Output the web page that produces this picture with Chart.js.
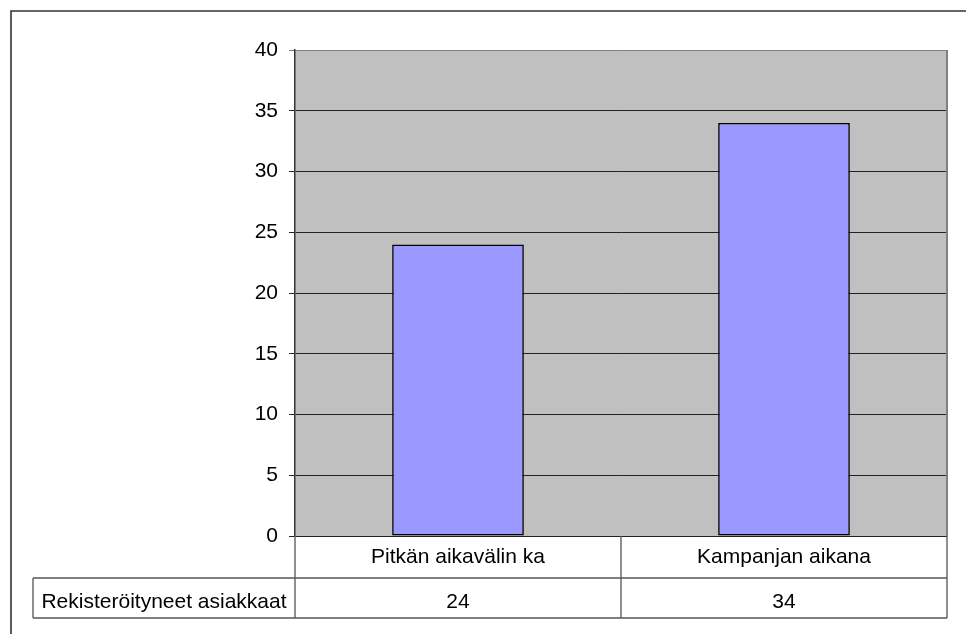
<!DOCTYPE html>
<html lang="fi">
<head>
<meta charset="utf-8">
<title>Rekisteröityneet asiakkaat</title>
<script src="https://cdn.jsdelivr.net/npm/chart.js@4/dist/chart.umd.min.js"></script>
<style>
  html, body { margin: 0; padding: 0; background: #ffffff; }
  canvas { display: block; }
</style>
</head>
<body>
<canvas id="chart" width="966" height="634"></canvas>
<script>
// Categories, series and values
const categories = ['Pitkän aikavälin ka', 'Kampanjan aikana'];
const seriesName = 'Rekisteröityneet asiakkaat';
const registeredCustomers = [24, 34];

const yMin = 0;
const yMax = 40;
const yStep = 5;

const FONT_FAMILY = '"Liberation Sans", Arial, Helvetica, sans-serif';
const FONT_SIZE = 21;

// Grey plot background
const plotBackground = {
  id: 'plotBackground',
  beforeDraw(chart) {
    const { ctx, chartArea: a } = chart;
    ctx.save();
    ctx.fillStyle = '#c0c0c0';
    ctx.fillRect(a.left, a.top, a.right - a.left, a.bottom - a.top);
    ctx.restore();
  }
};

// Data table under the plot, plot frame and outer frame
const dataTable = {
  id: 'dataTable',
  afterDraw(chart) {
    const { ctx, chartArea: a } = chart;
    const x = chart.scales.x;
    const row1Bottom = a.bottom + 42;
    const row2Bottom = row1Bottom + 40;
    const tableLeft = 33;
    const centers = categories.map((c, i) => x.getPixelForValue(i));
    const splits = [];
    for (let i = 0; i < centers.length - 1; i++) splits.push((centers[i] + centers[i + 1]) / 2);

    ctx.save();
    // right edge of plot
    ctx.strokeStyle = '#808080';
    ctx.lineWidth = 2;
    ctx.beginPath();
    ctx.moveTo(a.right, a.top);
    ctx.lineTo(a.right, a.bottom);
    ctx.stroke();

    // table grid
    ctx.strokeStyle = '#555555';
    ctx.lineWidth = 1.3;
    ctx.beginPath();
    ctx.moveTo(tableLeft, row1Bottom); ctx.lineTo(a.right, row1Bottom);
    ctx.moveTo(tableLeft, row2Bottom); ctx.lineTo(a.right, row2Bottom);
    ctx.moveTo(tableLeft, row1Bottom); ctx.lineTo(tableLeft, row2Bottom);
    ctx.moveTo(a.left, a.bottom); ctx.lineTo(a.left, row2Bottom);
    splits.forEach(s => { ctx.moveTo(s, a.bottom); ctx.lineTo(s, row2Bottom); });
    ctx.moveTo(a.right, a.bottom); ctx.lineTo(a.right, row2Bottom);
    ctx.stroke();

    // table text
    ctx.fillStyle = '#000000';
    ctx.font = FONT_SIZE + 'px ' + FONT_FAMILY;
    ctx.textAlign = 'center';
    ctx.textBaseline = 'alphabetic';
    const baseline = row1Bottom + 29.5;
    ctx.fillText(seriesName, (tableLeft + a.left) / 2, baseline);
    registeredCustomers.forEach((v, i) => {
      ctx.fillText(String(v), centers[i], baseline);
    });

    // outer frame
    ctx.strokeStyle = '#333333';
    ctx.lineWidth = 1.6;
    ctx.beginPath();
    ctx.moveTo(11, chart.height);
    ctx.lineTo(11, 11);
    ctx.lineTo(chart.width, 11);
    ctx.stroke();
    ctx.restore();
  }
};

new Chart(document.getElementById('chart'), {
  type: 'bar',
  data: {
    labels: categories,
    datasets: [{
      label: seriesName,
      data: registeredCustomers,
      backgroundColor: '#9999ff',
      borderColor: '#000000',
      borderWidth: 1.6,
      borderSkipped: false,
      categoryPercentage: 1,
      barPercentage: 0.404
    }]
  },
  options: {
    responsive: false,
    animation: false,
    devicePixelRatio: 1,
    layout: { padding: { left: 0, top: 50, right: 19, bottom: 56 } },
    plugins: {
      legend: { display: false },
      tooltip: { enabled: false },
      title: { display: false }
    },
    scales: {
      x: {
        grid: { display: false, drawTicks: false },
        border: { display: false },
        ticks: {
          color: '#000000',
          font: { family: FONT_FAMILY, size: FONT_SIZE },
          padding: 9,
          maxRotation: 0,
          autoSkip: false
        },
        afterFit(scale) { scale.height = 42; }
      },
      y: {
        min: yMin,
        max: yMax,
        grid: {
          color: ctx => (ctx.tick && ctx.tick.value === yMax ? '#808080' : '#222222'),
          lineWidth: 1,
          tickLength: 6,
          drawTicks: true
        },
        border: { display: true, color: '#333333', width: 1.5 },
        ticks: {
          stepSize: yStep,
          color: '#000000',
          font: { family: FONT_FAMILY, size: FONT_SIZE },
          padding: 11
        },
        afterFit(scale) { scale.width = 295; }
      }
    }
  },
  plugins: [plotBackground, dataTable]
});
</script>
</body>
</html>
